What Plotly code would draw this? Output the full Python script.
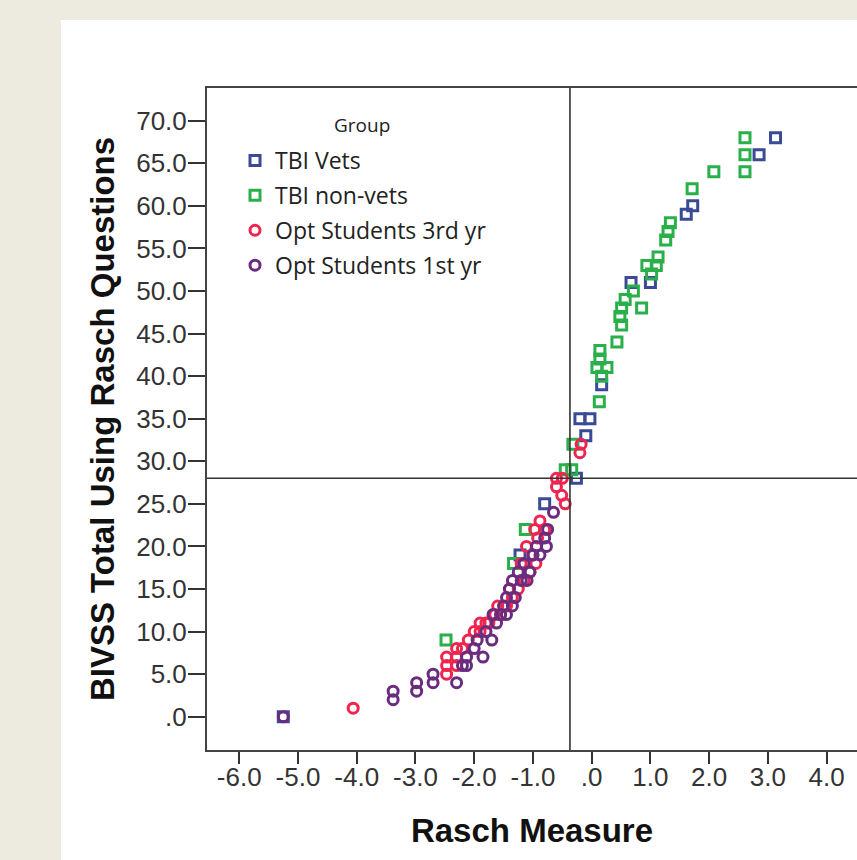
import plotly.graph_objects as go

# ---------------- data ----------------
vets_x = [3.13, 2.85, 1.72, 1.61, 1.00, 0.67, 0.17, -0.03, -0.20, -0.10, -0.26, -0.80, -1.22, -5.25]
vets_y = [68, 66, 60, 59, 51, 51, 39, 35, 35, 33, 28, 25, 19, 0]

nonvets_x = [2.61, 2.61, 2.61, 2.08, 1.71, 1.34, 1.30, 1.26, 1.13, 1.10, 0.94, 1.02, 0.71, 0.57,
             0.85, 0.51, 0.48, 0.51, 0.43, 0.14, 0.14, 0.09, 0.26, 0.17, 0.13, -0.32, -0.45,
             -0.34, -1.13, -1.33, -2.48]
nonvets_y = [68, 66, 64, 64, 62, 58, 57, 56, 54, 53, 53, 52, 50, 49,
             48, 48, 47, 46, 44, 43, 42, 41, 41, 40, 37, 32, 29,
             29, 22, 18, 9]

yr3_x = [-0.18, -0.20, -0.50, -0.60, -0.60, -0.51, -0.45, -0.88, -0.97, -1.11, -0.92, -1.00,
         -0.95, -1.05, -1.15, -1.25, -1.35, -1.45, -1.55, -1.65, -1.75, -1.90, -1.90, -2.00,
         -2.10, -2.30, -2.30, -2.30, -2.47, -2.47, -2.47, -4.06, -1.20, -1.40, -1.60, -1.80,
         -2.20, -0.80]
yr3_y = [32, 31, 28, 28, 27, 26, 25, 23, 22, 20, 21, 19,
         18, 17, 16, 15, 14, 13, 12, 12, 11, 11, 10, 10,
         9, 8, 7, 6, 7, 6, 5, 1, 18, 15, 13, 11,
         8, 22]

yr1_x = [-5.25, -3.38, -3.38, -2.98, -2.98, -2.70, -2.70, -2.30, -2.13, -2.13, -2.00, -1.95,
         -1.85, -1.80, -1.70, -1.62, -1.55, -1.50, -1.45, -1.40, -1.35, -1.30, -1.25, -1.20,
         -1.15, -1.05, -1.00, -0.94, -0.77, -0.80, -0.88, -0.65, -0.75, -2.20, -1.68, -1.45,
         -1.35, -1.10]
yr1_y = [0, 3, 2, 4, 3, 5, 4, 4, 7, 6, 8, 9,
         7, 10, 9, 11, 12, 13, 14, 15, 16, 14, 17, 16,
         18, 17, 19, 20, 20, 21, 19, 24, 22, 6, 12, 12,
         13, 16]

group_names = ["TBI Vets", "TBI non-vets", "Opt Students 3rd yr", "Opt Students 1st yr"]
legend_title = "Group"

x_tickvals = [-6, -5, -4, -3, -2, -1, 0, 1, 2, 3, 4]
x_ticktext = ["-6.0", "-5.0", "-4.0", "-3.0", "-2.0", "-1.0", ".0", "1.0", "2.0", "3.0", "4.0"]
y_tickvals = [0, 5, 10, 15, 20, 25, 30, 35, 40, 45, 50, 55, 60, 65, 70]
y_ticktext = [".0", "5.0", "10.0", "15.0", "20.0", "25.0", "30.0", "35.0", "40.0", "45.0",
              "50.0", "55.0", "60.0", "65.0", "70.0"]

ref_x = -0.37
ref_y = 28

# ---------------- style ----------------
colors = ["#3A4A96", "#2AB04A", "#F0244F", "#6A2C7E"]
symbols = ["square-open", "square-open", "circle-open", "circle-open"]
series = [(vets_x, vets_y), (nonvets_x, nonvets_y), (yr3_x, yr3_y), (yr1_x, yr1_y)]

W, H = 857, 860
L, R, T, B = 207, 0, 88, 110
pw, ph = W - L - R, H - T - B

def px_x(p):
    return (p - L) / pw

def px_y(p):
    return (T + ph - p) / ph

fig = go.Figure()
for i, ((xs, ys), name) in enumerate(zip(series, group_names)):
    fig.add_trace(go.Scatter(
        x=xs, y=ys, mode="markers", name=name, legendgroup=name,
        marker=dict(symbol=symbols[i], size=10, color=colors[i],
                    line=dict(width=3, color=colors[i])),
    ))

fig.add_vline(x=ref_x, line=dict(color="#333333", width=1.6))
fig.add_hline(y=ref_y, line=dict(color="#333333", width=1.6))

# white panel over beige page
fig.add_shape(type="rect", xref="paper", yref="paper", layer="below",
              x0=px_x(61), x1=px_x(W + 5), y0=px_y(H + 5), y1=px_y(20),
              fillcolor="white", line=dict(width=0))

fig.add_annotation(text=legend_title, xref="paper", yref="paper",
                   x=px_x(362), y=px_y(125), xanchor="center", yanchor="middle",
                   showarrow=False, font=dict(family="Open Sans", size=19, color="#222222"))

tick_font = dict(family="Liberation Sans, Arial", size=26, color="#333333")
title_font = dict(family="Liberation Sans, Arial", size=33, color="#111111")

fig.update_layout(
    width=W, height=H,
    margin=dict(l=L, r=R, t=T, b=B, pad=0),
    paper_bgcolor="#EDEAE0",
    plot_bgcolor="white",
    showlegend=True,
    legend=dict(
        x=px_x(235), y=px_y(139), xanchor="left", yanchor="top",
        bgcolor="rgba(0,0,0,0)", borderwidth=0,
        traceorder="grouped", tracegroupgap=2,
        font=dict(family="Open Sans", size=23, color="#222222"),
    ),
    xaxis=dict(
        range=[-6.549, 4.517], showgrid=False, zeroline=False,
        tickmode="array", tickvals=x_tickvals, ticktext=x_ticktext,
        ticks="outside", ticklen=12, tickwidth=2, tickcolor="#333333",
        ticklabelstandoff=-9,
        showline=True, linecolor="#444444", linewidth=2, mirror=True,
        tickfont=tick_font,
        title=dict(text="<b>Rasch Measure</b>", font=title_font, standoff=28),
    ),
    yaxis=dict(
        range=[-3.91, 73.84], showgrid=False, zeroline=False,
        tickmode="array", tickvals=y_tickvals, ticktext=y_ticktext,
        ticks="outside", ticklen=17, tickwidth=2, tickcolor="#333333",
        ticklabelstandoff=-4,
        showline=True, linecolor="#444444", linewidth=2,
        tickfont=tick_font,
        title=dict(text="<b>BIVSS Total Using Rasch Questions</b>", font=title_font, standoff=12),
    ),
)

fig.write_html("out.html")
